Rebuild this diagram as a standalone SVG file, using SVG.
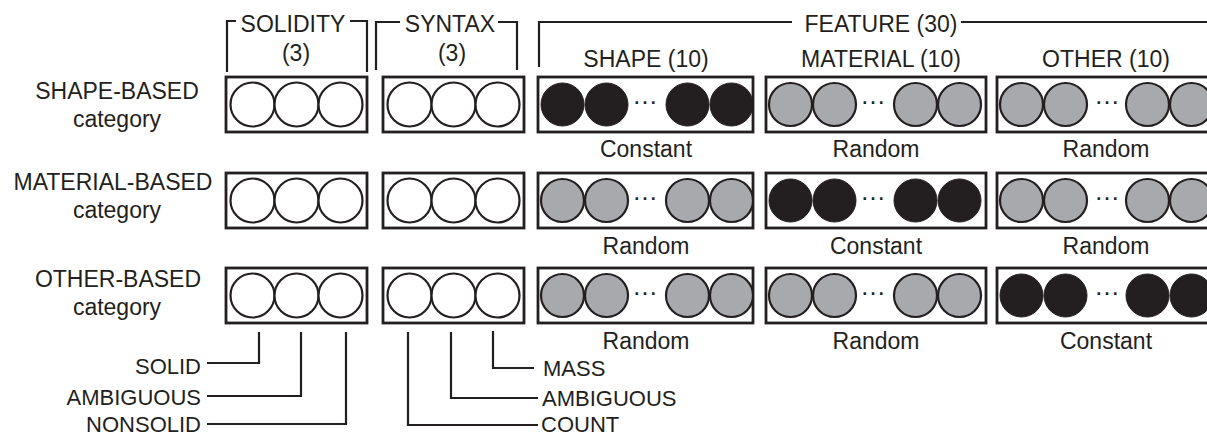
<svg xmlns="http://www.w3.org/2000/svg" width="1207" height="437" viewBox="0 0 1207 437">
<defs>
<style>
text{font-family:"Liberation Sans",Arial,sans-serif;font-size:23px;fill:#231f20}
.m{text-anchor:middle}
.e{text-anchor:end}
.s{font-size:22px}
.d{font-size:26px}
.box{fill:#fff;stroke:#231f20;stroke-width:2.8}
.w{fill:#fff;stroke:#231f20;stroke-width:2.2}
.g{fill:#a7a9ac;stroke:#231f20;stroke-width:2.2}
.b{fill:#231f20;stroke:#231f20;stroke-width:1}
.ln{fill:none;stroke:#231f20;stroke-width:2.2}
</style>
</defs>
<rect width="1207" height="437" fill="#fff"/>

<g id="headers">
<path class="ln" d="M227,72 V21 H236 M350,21 H367 V72"/>
<text class="m" x="293" y="32">SOLIDITY</text>
<text class="m" x="296" y="61">(3)</text>
<path class="ln" d="M376,70 V22 H400 M498,22 H517 V70"/>
<text class="m" x="450" y="32">SYNTAX</text>
<text class="m" x="452" y="61">(3)</text>
<path class="ln" d="M539,67 V22 H792 M961,22 H1207"/>
<text class="m" x="881" y="32">FEATURE (30)</text>
<text class="m" x="646" y="67">SHAPE (10)</text>
<text class="m" x="881" y="67">MATERIAL (10)</text>
<text class="m" x="1106" y="67">OTHER (10)</text>
</g>

<g id="row-shape">
<text class="m" x="117" y="99">SHAPE-BASED</text>
<text class="m" x="117" y="127">category</text>
<rect class="box" x="226" y="77" width="141" height="55"/>
<circle class="w" cx="252.5" cy="104.5" r="22"/><circle class="w" cx="296.5" cy="104.5" r="22"/><circle class="w" cx="340.5" cy="104.5" r="22"/>
<rect class="box" x="383" y="77" width="141" height="55"/>
<circle class="w" cx="409.5" cy="104.5" r="22"/><circle class="w" cx="453.5" cy="104.5" r="22"/><circle class="w" cx="497.5" cy="104.5" r="22"/>
<rect class="box" x="538" y="77" width="215" height="55"/>
<circle class="b" cx="562.5" cy="104.5" r="21.5"/><circle class="b" cx="606.5" cy="104.5" r="21.5"/><text class="m d" x="645" y="104">…</text><circle class="b" cx="687.5" cy="104.5" r="21.5"/><circle class="b" cx="731.5" cy="104.5" r="21.5"/>
<rect class="box" x="766" y="77" width="220" height="55"/>
<circle class="g" cx="790.5" cy="104.5" r="21.5"/><circle class="g" cx="834.5" cy="104.5" r="21.5"/><text class="m d" x="873" y="104">…</text><circle class="g" cx="915.5" cy="104.5" r="21.5"/><circle class="g" cx="959.5" cy="104.5" r="21.5"/>
<rect class="box" x="997" y="77" width="220" height="55"/>
<circle class="g" cx="1021.5" cy="104.5" r="21.5"/><circle class="g" cx="1065.5" cy="104.5" r="21.5"/><text class="m d" x="1107" y="104">…</text><circle class="g" cx="1147.5" cy="104.5" r="21.5"/><circle class="g" cx="1191.5" cy="104.5" r="21.5"/>
<text class="m" x="646" y="157">Constant</text>
<text class="m" x="876" y="157">Random</text>
<text class="m" x="1106" y="157">Random</text>
</g>

<g id="row-material">
<text class="m" x="113" y="190">MATERIAL-BASED</text>
<text class="m" x="117" y="218">category</text>
<rect class="box" x="226" y="173" width="141" height="55"/>
<circle class="w" cx="252.5" cy="200.5" r="22"/><circle class="w" cx="296.5" cy="200.5" r="22"/><circle class="w" cx="340.5" cy="200.5" r="22"/>
<rect class="box" x="383" y="173" width="141" height="55"/>
<circle class="w" cx="409.5" cy="200.5" r="22"/><circle class="w" cx="453.5" cy="200.5" r="22"/><circle class="w" cx="497.5" cy="200.5" r="22"/>
<rect class="box" x="538" y="173" width="215" height="55"/>
<circle class="g" cx="562.5" cy="200.5" r="21.5"/><circle class="g" cx="606.5" cy="200.5" r="21.5"/><text class="m d" x="645" y="200">…</text><circle class="g" cx="687.5" cy="200.5" r="21.5"/><circle class="g" cx="731.5" cy="200.5" r="21.5"/>
<rect class="box" x="766" y="173" width="220" height="55"/>
<circle class="b" cx="790.5" cy="200.5" r="21.5"/><circle class="b" cx="834.5" cy="200.5" r="21.5"/><text class="m d" x="873" y="200">…</text><circle class="b" cx="915.5" cy="200.5" r="21.5"/><circle class="b" cx="959.5" cy="200.5" r="21.5"/>
<rect class="box" x="997" y="173" width="220" height="55"/>
<circle class="g" cx="1021.5" cy="200.5" r="21.5"/><circle class="g" cx="1065.5" cy="200.5" r="21.5"/><text class="m d" x="1107" y="200">…</text><circle class="g" cx="1147.5" cy="200.5" r="21.5"/><circle class="g" cx="1191.5" cy="200.5" r="21.5"/>
<text class="m" x="646" y="254">Random</text>
<text class="m" x="876" y="254">Constant</text>
<text class="m" x="1106" y="254">Random</text>
</g>

<g id="row-other">
<text class="m" x="118" y="287">OTHER-BASED</text>
<text class="m" x="117" y="315">category</text>
<rect class="box" x="226" y="268" width="141" height="55"/>
<circle class="w" cx="252.5" cy="295.5" r="22"/><circle class="w" cx="296.5" cy="295.5" r="22"/><circle class="w" cx="340.5" cy="295.5" r="22"/>
<rect class="box" x="383" y="268" width="141" height="55"/>
<circle class="w" cx="409.5" cy="295.5" r="22"/><circle class="w" cx="453.5" cy="295.5" r="22"/><circle class="w" cx="497.5" cy="295.5" r="22"/>
<rect class="box" x="538" y="268" width="215" height="55"/>
<circle class="g" cx="562.5" cy="295.5" r="21.5"/><circle class="g" cx="606.5" cy="295.5" r="21.5"/><text class="m d" x="645" y="295">…</text><circle class="g" cx="687.5" cy="295.5" r="21.5"/><circle class="g" cx="731.5" cy="295.5" r="21.5"/>
<rect class="box" x="766" y="268" width="220" height="55"/>
<circle class="g" cx="790.5" cy="295.5" r="21.5"/><circle class="g" cx="834.5" cy="295.5" r="21.5"/><text class="m d" x="873" y="295">…</text><circle class="g" cx="915.5" cy="295.5" r="21.5"/><circle class="g" cx="959.5" cy="295.5" r="21.5"/>
<rect class="box" x="997" y="268" width="220" height="55"/>
<circle class="b" cx="1021.5" cy="295.5" r="21.5"/><circle class="b" cx="1065.5" cy="295.5" r="21.5"/><text class="m d" x="1107" y="295">…</text><circle class="b" cx="1147.5" cy="295.5" r="21.5"/><circle class="b" cx="1191.5" cy="295.5" r="21.5"/>
<text class="m" x="646" y="349">Random</text>
<text class="m" x="876" y="349">Random</text>
<text class="m" x="1106" y="349">Constant</text>
</g>

<g id="connectors">
<path class="ln" d="M259,332 V363 H207"/>
<path class="ln" d="M301,332 V396 H207"/>
<path class="ln" d="M346,332 V424 H207"/>
<path class="ln" d="M493,331 V368 H534"/>
<path class="ln" d="M451,332 V398 H538"/>
<path class="ln" d="M408,332 V425 H538"/>
</g>

<g id="legend-labels">
<text class="e s" x="201" y="374">SOLID</text>
<text class="e s" x="201" y="405">AMBIGUOUS</text>
<text class="e s" x="201" y="432">NONSOLID</text>
<text class="s" x="543" y="376">MASS</text>
<text class="s" x="542" y="406">AMBIGUOUS</text>
<text class="s" x="541" y="432">COUNT</text>
</g>
</svg>
